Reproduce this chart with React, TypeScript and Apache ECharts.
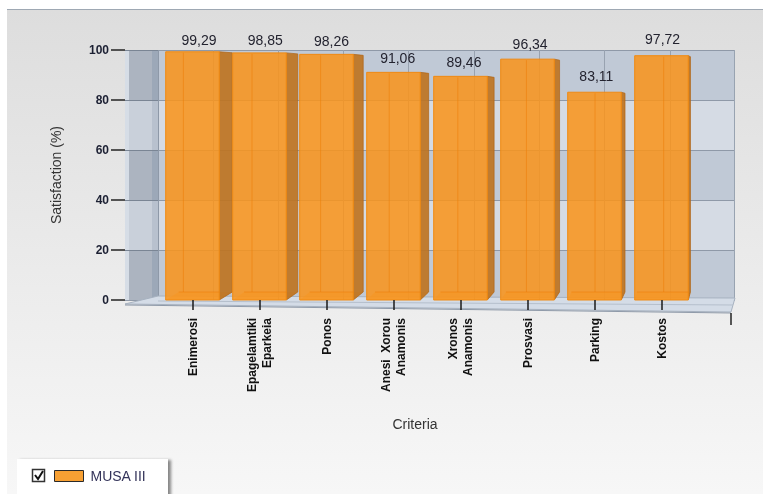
import React, { useEffect, useRef } from "react";
import * as echarts from "echarts";

// Criteria along the category axis (line breaks as printed under the ticks)
const criteria = [
  "Enimerosi",
  "Epagelamtiki\nEparkeia",
  "Ponos",
  "Anesi  Xorou\nAnamonis",
  "Xronos\nAnamonis",
  "Prosvasi",
  "Parking",
  "Kostos",
];
// Satisfaction per criterion, in %
const satisfaction = [99.29, 98.85, 98.26, 91.06, 89.46, 96.34, 83.11, 97.72];
// Value axis ticks
const valueTicks = [0, 20, 40, 60, 80, 100];
const seriesName = "MUSA III";
const valueAxisTitle = "Satisfaction (%)";
const categoryAxisTitle = "Criteria";

const FONT = '"Liberation Sans", Arial, sans-serif';
const W = 763;
const H = 494;
const WALL_DEPTH = 33;

const fmt = (v: number) => v.toFixed(2).replace(".", ",");

export default function App() {
  const ref = useRef<HTMLDivElement>(null);

  useEffect(() => {
    const el = ref.current;
    if (!el) return;
    const chart = echarts.init(el, null, { renderer: "svg" });
    const vMin = valueTicks[0];
    const vMax = valueTicks[valueTicks.length - 1];
    const step = valueTicks[1] - valueTicks[0];

    // left side wall bands, floor and back-wall frame, from the wall grid's scales
    const renderWall = (params: any, api: any) => {
      const i = params.dataIndex;
      const v0 = api.value(1) as number;
      const lo = api.coord([0, v0]);
      const hi = api.coord([0, v0 + step]);
      const fx = lo[0];
      const bx = fx + WALL_DEPTH;
      const h = lo[1] - hi[1];
      const children: any[] = [
        { type: "rect", shape: { x: fx, y: hi[1], width: WALL_DEPTH, height: h }, style: { fill: i % 2 === 0 ? "#acb4c0" : "#c9d0da" } },
        { type: "rect", shape: { x: fx, y: hi[1], width: 4, height: h }, style: { fill: "#d6dde6" } },
        { type: "rect", shape: { x: bx - 6, y: hi[1], width: 6, height: h }, style: { fill: i % 2 === 0 ? "#9ca8b8" : "#b8c1ce" } },
        { type: "line", shape: { x1: fx, y1: hi[1] + 0.5, x2: bx, y2: hi[1] + 0.5 }, style: { stroke: "#7a8594", lineWidth: 1 } },
        { type: "line", shape: { x1: bx + 0.5, y1: hi[1], x2: bx + 0.5, y2: lo[1] }, style: { stroke: "#8e99a8", lineWidth: 1 } },
      ];
      if (i === 0) {
        const r = api.coord([1, v0]);
        const rt = api.coord([1, vMax]);
        const y0 = lo[1];
        children.push(
          { type: "line", shape: { x1: rt[0] - 0.5, y1: rt[1], x2: r[0] - 0.5, y2: y0 }, style: { stroke: "#98a3b1", lineWidth: 1 } },
          {
            type: "polygon",
            shape: { points: [[fx, y0 + 4], [bx, y0 - 4], [r[0], y0 - 2], [r[0] - 4, y0 + 12]] },
            style: { fill: "#d4dce7", stroke: "#a7b2c0", lineWidth: 1 },
          },
          { type: "line", shape: { x1: bx, y1: y0 + 1, x2: r[0] - 2, y2: y0 + 5 }, style: { stroke: "#b5bfcc", lineWidth: 1 } },
          { type: "line", shape: { x1: fx, y1: y0 + 5, x2: r[0] - 4, y2: y0 + 13 }, style: { stroke: "#8f9aa9", lineWidth: 1 } },
          { type: "line", shape: { x1: r[0] - 4, y1: y0 + 13, x2: r[0] - 4, y2: y0 + 25 }, style: { stroke: "#222", lineWidth: 1.5 } }
        );
      }
      return { type: "group", children };
    };

    // vertical grid lines on the back wall, one per criterion
    const renderBackLine = (_params: any, api: any) => {
      const i = api.value(0) as number;
      const t = api.coord([i, api.value(1)]);
      const b = api.coord([i, vMin]);
      const x = Math.round(t[0] + 20 - 1.7 * i) + 0.5;
      return {
        type: "line",
        shape: { x1: x, y1: t[1], x2: x, y2: b[1] },
        style: { stroke: "#98a2b0", lineWidth: 1 },
      };
    };

    // pseudo-3D bar: translucent front face, darker side face, value on top
    const renderBar = (_params: any, api: any) => {
      const i = api.value(0) as number;
      const v = api.value(1) as number;
      const top = api.coord([i, v]);
      const base = api.coord([i, vMin]);
      const bw = api.size([1, 0])[0] * 0.8;
      const xl = top[0] - bw / 2;
      const xr = top[0] + bw / 2;
      const yT = top[1];
      const yB = base[1];
      const d = 13 - 1.55 * i;
      const lift = 8;
      const inner = xl + bw * (0.33 + 0.03 * i);
      return {
        type: "group",
        children: [
          {
            type: "polygon",
            shape: { points: [[xl, yB], [xr, yB], [xr + d, yB - lift], [xl + d, yB - lift]] },
            style: { fill: "rgba(246,150,40,0.45)" },
          },
          {
            type: "polygon",
            shape: { points: [[xr, yT], [xr + d, yT + 1], [xr + d, yB - lift], [xr, yB]] },
            style: { fill: "rgba(190,116,34,0.92)", stroke: "rgba(176,102,24,0.9)", lineWidth: 0.8 },
          },
          {
            type: "rect",
            shape: { x: xl, y: yT, width: bw, height: yB - yT },
            style: { fill: "rgba(248,148,29,0.87)", stroke: "#f08a12", lineWidth: 1 },
          },
          {
            type: "line",
            shape: { x1: inner, y1: yT + 1, x2: inner, y2: yB - lift },
            style: { stroke: "rgba(236,126,8,0.55)", lineWidth: 1 },
          },
          {
            type: "line",
            shape: { x1: xl + d, y1: yB - lift, x2: xr, y2: yB - lift },
            style: { stroke: "rgba(236,126,8,0.55)", lineWidth: 1 },
          },
          {
            type: "text",
            x: (xl + xr + d) / 2,
            y: yT - 5 - 0.7 * i,
            style: {
              text: fmt(v),
              align: "center",
              verticalAlign: "bottom",
              fontSize: 14,
              fontFamily: FONT,
              fill: "#23232f",
            },
          },
        ],
      };
    };

    const option: any = {
      animation: false,
      textStyle: { fontFamily: FONT },
      graphic: {
        elements: [
          { type: "rect", z: -10, silent: true, shape: { x: 0, y: 0, width: W, height: H }, style: { fill: "#ffffff" } },
          {
            type: "rect",
            z: -9,
            silent: true,
            shape: { x: 7, y: 9, width: W - 7, height: H - 9 },
            style: {
              fill: new echarts.graphic.LinearGradient(0, 0, 0, 1, [
                { offset: 0, color: "#dddddd" },
                { offset: 1, color: "#f7f7f7" },
              ]),
            },
          },
          { type: "line", z: -8, silent: true, shape: { x1: 7, y1: 9.5, x2: W, y2: 9.5 }, style: { stroke: "#9ea8b3", lineWidth: 1 } },
          {
            type: "text",
            z: 10,
            x: 415,
            y: 424,
            style: { text: categoryAxisTitle, align: "center", verticalAlign: "middle", fontSize: 14, fontFamily: FONT, fill: "#333" },
          },
          {
            type: "rect",
            z: 3,
            shape: { x: 17, y: 459, width: 151, height: 40 },
            style: { fill: "#ffffff", shadowBlur: 3, shadowOffsetX: 3, shadowOffsetY: 1, shadowColor: "rgba(0,0,0,0.45)" },
          },
          { type: "rect", z: 5, shape: { x: 32.5, y: 469.5, width: 12, height: 12 }, style: { fill: "#fff", stroke: "#333", lineWidth: 1.5 } },
          {
            type: "polyline",
            z: 6,
            shape: { points: [[35, 475], [38, 479], [43, 471]] },
            style: { stroke: "#111", lineWidth: 2, fill: null },
          },
        ],
      },
      legend: {
        data: [seriesName],
        left: 54,
        top: 469,
        padding: 0,
        itemWidth: 29,
        itemHeight: 11,
        icon: "rect",
        selectedMode: false,
        itemStyle: { borderColor: "#2a2a2a", borderWidth: 1 },
        textStyle: { fontSize: 14, color: "#34345a", fontFamily: FONT, padding: [0, 0, 0, 2] },
      },
      grid: [
        // wall box: side wall from the front edge, back wall behind it
        { left: 125, top: 50, width: 610, height: 250 },
        // bar plotting band
        { left: 159, top: 50, width: 536, height: 250 },
      ],
      xAxis: [
        { gridIndex: 0, type: "value", min: 0, max: 1, show: false },
        {
          gridIndex: 1,
          type: "category",
          data: criteria,
          offset: 5,
          z: 5,
          axisLine: { show: true, lineStyle: { color: "rgba(0,0,0,0)" } },
          axisTick: { show: true, alignWithLabel: true, length: 10, lineStyle: { color: "#1a1a1a", width: 1.5 } },
          axisLabel: {
            rotate: 90,
            interval: 0,
            margin: 13,
            fontSize: 12,
            fontWeight: "bold",
            color: "#111",
            lineHeight: 15,
            fontFamily: FONT,
          },
        },
      ],
      yAxis: [
        {
          gridIndex: 0,
          type: "value",
          min: vMin,
          max: vMax,
          interval: step,
          name: valueAxisTitle,
          nameLocation: "middle",
          nameGap: 62,
          nameTextStyle: { fontSize: 14, color: "#333", fontFamily: FONT },
          axisLine: { show: true, lineStyle: { color: "rgba(0,0,0,0)" } },
          axisTick: { show: true, length: 14, lineStyle: { color: "#222", width: 1.5 } },
          axisLabel: { margin: 16, fontSize: 12, fontWeight: "bold", color: "#1c2033", fontFamily: FONT },
          splitLine: { show: true, lineStyle: { color: "#8f99a8", width: 1 } },
          splitArea: { show: true, areaStyle: { color: ["#c0c9d6", "#d5dbe4"] } },
        },
        { gridIndex: 1, type: "value", min: vMin, max: vMax, show: false },
      ],
      series: [
        {
          type: "custom",
          name: "wall",
          xAxisIndex: 0,
          yAxisIndex: 0,
          silent: true,
          z: 1,
          data: valueTicks.slice(0, -1).map((v) => [0, v]),
          renderItem: renderWall,
        },
        {
          type: "custom",
          name: "backLines",
          xAxisIndex: 1,
          yAxisIndex: 1,
          silent: true,
          z: 2,
          data: criteria.map((_, i) => [i, vMax]),
          renderItem: renderBackLine,
        },
        {
          type: "custom",
          name: seriesName,
          xAxisIndex: 1,
          yAxisIndex: 1,
          z: 3,
          itemStyle: { color: "#f7a033" },
          encode: { x: 0, y: 1 },
          data: satisfaction.map((v, i) => [i, v]),
          renderItem: renderBar,
        },
      ],
    };

    chart.setOption(option);
    return () => chart.dispose();
  }, []);

  return <div ref={ref} style={{ position: "fixed", left: 0, top: 0, width: W, height: H }} />;
}
